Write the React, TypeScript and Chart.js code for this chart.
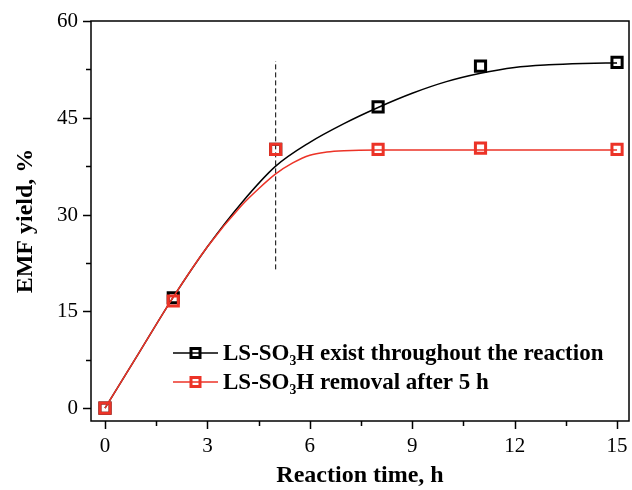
import React, { useEffect, useRef } from "react";
import { Chart, registerables } from "chart.js";

Chart.register(...registerables);

// Measured points
const timeH = [0, 2, 5, 8, 11, 15];
const yieldExist = [0, 17.1, 40.1, 46.7, 53.0, 53.6];
const yieldRemoval = [0, 16.6, 40.1, 40.1, 40.3, 40.1];

// Fitted curves
const fitTimeExist = [0, 1, 2, 3, 4, 5, 6, 7, 8, 9, 10, 11, 12, 13, 14, 15];
const fitExist = [0, 8.6, 17.2, 25.0, 31.8, 37.5, 41.2, 44.1, 46.6, 48.8, 50.6, 51.9, 52.8, 53.2, 53.4, 53.5];
const fitTimeRemoval = [0, 1, 2, 3, 4, 4.5, 5, 5.5, 6, 6.5, 7, 8, 9, 10, 11, 12, 13, 14, 15];
const fitRemoval = [0, 8.6, 17.2, 25.0, 31.4, 34.0, 36.3, 38.0, 39.2, 39.7, 39.9, 40.0, 40.0, 40.0, 40.0, 40.0, 40.0, 40.0, 40.0];

// Dashed marker line at 5 h
const dashX = [5, 5];
const dashY = [21.5, 53.8];

// Axis ticks
const xMajor = [0, 3, 6, 9, 12, 15];
const xMinor = [1.5, 4.5, 7.5, 10.5, 13.5];
const yMajor = [0, 15, 30, 45, 60];
const yMinor = [7.5, 22.5, 37.5, 52.5];

const legendLabels = ["LS-SO₃H exist throughout the reaction", "LS-SO₃H removal after 5 h"];

const BLACK = "#000000";
const RED = "#ec3327";
const SERIF = "'Liberation Serif', 'Times New Roman', serif";

const pts = (xs: number[], ys: number[]) => xs.map((x, i) => ({ x, y: ys[i] }));

const framePlugin = {
  id: "frameTicks",
  afterDraw(chart: any) {
    const { ctx, chartArea: a, scales } = chart;
    const xs = scales.x;
    const ys = scales.y;
    ctx.save();
    ctx.strokeStyle = "#000";
    ctx.lineWidth = 1.5;
    ctx.strokeRect(a.left, a.top, a.right - a.left, a.bottom - a.top);
    ctx.beginPath();
    xMajor.forEach((v) => {
      const p = Math.round(xs.getPixelForValue(v)) + 0.5;
      ctx.moveTo(p, a.bottom);
      ctx.lineTo(p, a.bottom + 8);
    });
    xMinor.forEach((v) => {
      const p = Math.round(xs.getPixelForValue(v)) + 0.5;
      ctx.moveTo(p, a.bottom);
      ctx.lineTo(p, a.bottom + 5);
    });
    yMajor.forEach((v) => {
      const p = Math.round(ys.getPixelForValue(v)) + 0.5;
      ctx.moveTo(a.left, p);
      ctx.lineTo(a.left - 8, p);
    });
    yMinor.forEach((v) => {
      const p = Math.round(ys.getPixelForValue(v)) + 0.5;
      ctx.moveTo(a.left, p);
      ctx.lineTo(a.left - 5, p);
    });
    ctx.stroke();
    // tick labels
    ctx.fillStyle = "#000";
    ctx.font = `21px ${SERIF}`;
    ctx.textAlign = "center";
    ctx.textBaseline = "middle";
    xMajor.forEach((v) => {
      ctx.fillText(String(v), xs.getPixelForValue(v), a.bottom + 25);
    });
    ctx.textAlign = "right";
    yMajor.forEach((v) => {
      ctx.fillText(String(v), a.left - 13, ys.getPixelForValue(v) + 0.5);
    });
    ctx.restore();
  },
};

const legendPlugin = {
  id: "customLegend",
  afterDatasetsDraw(chart: any) {
    const { ctx } = chart;
    const colors = [BLACK, RED];
    const x0 = 173;
    const x1 = 218;
    const ys = [353, 382];
    ctx.save();
    legendLabels.forEach((label, i) => {
      const y = ys[i];
      ctx.strokeStyle = colors[i];
      ctx.lineWidth = 1.5;
      ctx.beginPath();
      ctx.moveTo(x0, y);
      ctx.lineTo(x1, y);
      ctx.stroke();
      ctx.lineWidth = 3;
      const s = 4.5;
      const cx = (x0 + x1) / 2;
      ctx.strokeRect(cx - s, y - s, 2 * s, 2 * s);
      ctx.fillStyle = "#000";
      ctx.font = `bold 23px ${SERIF}`;
      ctx.textBaseline = "middle";
      ctx.textAlign = "left";
      ctx.fillText(label, 223, y + 1);
    });
    ctx.restore();
  },
};

export default function App() {
  const canvasRef = useRef<HTMLCanvasElement | null>(null);

  useEffect(() => {
    if (!canvasRef.current) return;
    const chart = new Chart(canvasRef.current, {
      type: "scatter",
      data: {
        datasets: [
          {
            label: "removal points",
            data: pts(timeH, yieldRemoval),
            showLine: false,
            pointStyle: "rect",
            pointRadius: 7.2,
            pointBorderWidth: 3,
            borderColor: RED,
            backgroundColor: "rgba(0,0,0,0)",
            clip: false,
          },
          {
            label: "removal fit",
            data: pts(fitTimeRemoval, fitRemoval),
            showLine: true,
            pointRadius: 0,
            borderColor: RED,
            borderWidth: 1.5,
            cubicInterpolationMode: "monotone",
          },
          {
            label: "exist points",
            data: pts(timeH, yieldExist),
            showLine: false,
            pointStyle: "rect",
            pointRadius: 7.2,
            pointBorderWidth: 3,
            borderColor: BLACK,
            backgroundColor: "rgba(0,0,0,0)",
            clip: false,
          },
          {
            label: "exist fit",
            data: pts(fitTimeExist, fitExist),
            showLine: true,
            pointRadius: 0,
            borderColor: BLACK,
            borderWidth: 1.5,
            cubicInterpolationMode: "monotone",
          },
          {
            label: "5 h",
            data: pts(dashX, dashY),
            showLine: true,
            pointRadius: 0,
            borderColor: BLACK,
            borderWidth: 1,
            borderDash: [5, 3],
          },
        ],
      },
      options: {
        animation: false,
        responsive: false,
        devicePixelRatio: 1,
        layout: { autoPadding: false, padding: { top: 21, right: 3, left: 0, bottom: 0 } },
        plugins: {
          legend: { display: false },
          tooltip: { enabled: false },
        },
        scales: {
          x: {
            type: "linear",
            min: -0.41,
            max: 15.35,
            grid: { display: false, drawTicks: false },
            border: { display: false },
            afterBuildTicks: (scale: any) => {
              scale.ticks = xMajor.map((v) => ({ value: v }));
            },
            afterFit: (scale: any) => {
              scale.height = 69;
            },
            ticks: { display: false },
            title: {
              display: true,
              text: "Reaction time, h",
              color: "#000",
              font: { family: SERIF, size: 24, weight: "bold" },
              padding: { top: 0, bottom: 0 },
            },
          },
          y: {
            type: "linear",
            min: -2,
            max: 60,
            grid: { display: false, drawTicks: false },
            border: { display: false },
            afterBuildTicks: (scale: any) => {
              scale.ticks = yMajor.map((v) => ({ value: v }));
            },
            afterFit: (scale: any) => {
              scale.width = 91;
            },
            ticks: { display: false },
            title: {
              display: true,
              text: "EMF yield, %",
              color: "#000",
              font: { family: SERIF, size: 24, weight: "bold" },
              padding: { top: 11, bottom: 0 },
            },
          },
        },
      },
      plugins: [framePlugin, legendPlugin],
    });
    return () => chart.destroy();
  }, []);

  return (
    <div style={{ position: "fixed", left: 0, top: 0, width: 632, height: 490, background: "#fff" }}>
      <canvas ref={canvasRef} width={632} height={490} style={{ width: 632, height: 490 }} />
    </div>
  );
}
